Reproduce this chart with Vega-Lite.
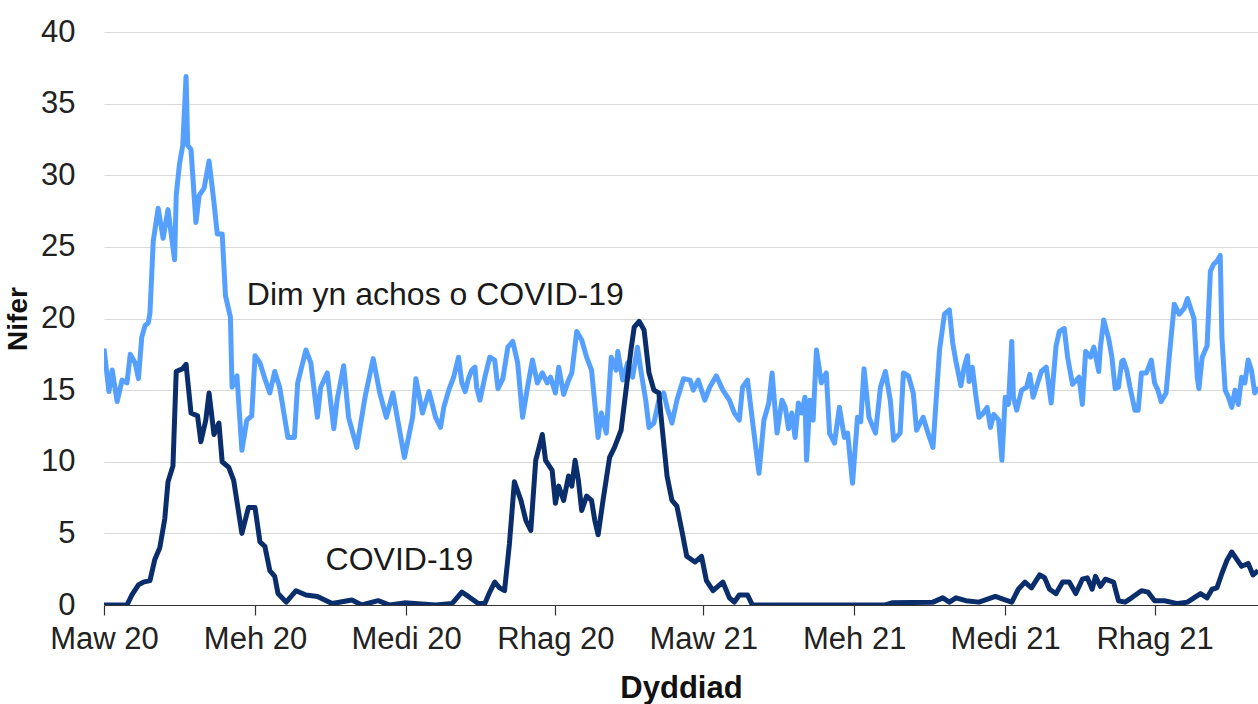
{
  "$schema": "https://vega.github.io/schema/vega-lite/v6.json",
  "autosize": "none",
  "width": 1154,
  "height": 573,
  "padding": {"left": 104, "top": 32, "right": 0, "bottom": 99},
  "background": "white",
  "config": {
    "view": {"stroke": null},
    "font": "Liberation Sans",
    "axis": {"labelFont": "Liberation Sans", "titleFont": "Liberation Sans", "labelColor": "#222222", "titleColor": "#111111"}
  },
  "datasets": {
    "dim": [
      {"d":"2020-03-01","v":17.9},{"d":"2020-03-04","v":14.9},{"d":"2020-03-06","v":16.4},{"d":"2020-03-09","v":14.2},{"d":"2020-03-12","v":15.7},{"d":"2020-03-15","v":15.5},{"d":"2020-03-17","v":17.5},{"d":"2020-03-20","v":16.9},{"d":"2020-03-22","v":15.8},{"d":"2020-03-24","v":18.7},{"d":"2020-03-26","v":19.5},{"d":"2020-03-28","v":19.7},{"d":"2020-03-29","v":20.4},{"d":"2020-03-31","v":25.4},
      {"d":"2020-04-03","v":27.7},{"d":"2020-04-06","v":25.6},{"d":"2020-04-09","v":27.6},{"d":"2020-04-13","v":24.1},{"d":"2020-04-14","v":28.6},{"d":"2020-04-16","v":30.8},{"d":"2020-04-18","v":32.1},{"d":"2020-04-20","v":36.9},{"d":"2020-04-21","v":32.1},{"d":"2020-04-23","v":31.8},{"d":"2020-04-26","v":26.7},{"d":"2020-04-28","v":28.6},
      {"d":"2020-05-01","v":29.1},{"d":"2020-05-04","v":31.0},{"d":"2020-05-07","v":28.1},{"d":"2020-05-09","v":25.9},{"d":"2020-05-12","v":25.9},{"d":"2020-05-14","v":21.6},{"d":"2020-05-17","v":20.1},{"d":"2020-05-18","v":15.2},{"d":"2020-05-21","v":16.0},{"d":"2020-05-24","v":10.8},{"d":"2020-05-27","v":12.9},{"d":"2020-05-30","v":13.2},
      {"d":"2020-06-01","v":17.4},{"d":"2020-06-04","v":16.9},{"d":"2020-06-07","v":15.8},{"d":"2020-06-10","v":14.8},{"d":"2020-06-13","v":16.3},{"d":"2020-06-16","v":15.2},{"d":"2020-06-21","v":11.7},{"d":"2020-06-25","v":11.7},{"d":"2020-06-27","v":15.5},
      {"d":"2020-07-02","v":17.8},{"d":"2020-07-05","v":16.9},{"d":"2020-07-09","v":13.1},{"d":"2020-07-11","v":15.2},{"d":"2020-07-15","v":16.2},{"d":"2020-07-19","v":12.3},{"d":"2020-07-21","v":14.3},{"d":"2020-07-25","v":16.7},{"d":"2020-07-28","v":13.1},
      {"d":"2020-08-02","v":11.0},{"d":"2020-08-07","v":14.5},{"d":"2020-08-12","v":17.2},{"d":"2020-08-16","v":14.8},{"d":"2020-08-20","v":13.1},{"d":"2020-08-24","v":14.8},{"d":"2020-08-31","v":10.3},
      {"d":"2020-09-05","v":13.1},{"d":"2020-09-07","v":15.8},{"d":"2020-09-11","v":13.4},{"d":"2020-09-15","v":14.9},{"d":"2020-09-19","v":13.1},{"d":"2020-09-22","v":12.4},{"d":"2020-09-24","v":13.8},{"d":"2020-09-27","v":15.0},{"d":"2020-09-30","v":15.9},
      {"d":"2020-10-03","v":17.3},{"d":"2020-10-05","v":15.5},{"d":"2020-10-07","v":14.9},{"d":"2020-10-09","v":15.8},{"d":"2020-10-11","v":16.4},{"d":"2020-10-13","v":16.6},{"d":"2020-10-14","v":15.2},{"d":"2020-10-16","v":14.3},{"d":"2020-10-19","v":15.9},{"d":"2020-10-22","v":17.3},{"d":"2020-10-25","v":17.1},{"d":"2020-10-27","v":15.1},{"d":"2020-10-30","v":15.8},
      {"d":"2020-11-02","v":18.0},{"d":"2020-11-05","v":18.4},{"d":"2020-11-08","v":16.9},{"d":"2020-11-11","v":13.1},{"d":"2020-11-14","v":15.2},{"d":"2020-11-17","v":17.1},{"d":"2020-11-20","v":15.5},{"d":"2020-11-23","v":16.2},{"d":"2020-11-26","v":15.5},{"d":"2020-11-28","v":15.9},
      {"d":"2020-12-01","v":14.8},{"d":"2020-12-03","v":16.6},{"d":"2020-12-06","v":14.7},{"d":"2020-12-09","v":15.7},{"d":"2020-12-11","v":16.2},{"d":"2020-12-14","v":19.1},{"d":"2020-12-17","v":18.5},{"d":"2020-12-20","v":17.3},{"d":"2020-12-23","v":16.4},{"d":"2020-12-27","v":11.7},{"d":"2020-12-29","v":13.4},
      {"d":"2021-01-01","v":12.0},{"d":"2021-01-04","v":17.3},{"d":"2021-01-07","v":16.4},{"d":"2021-01-08","v":17.7},{"d":"2021-01-11","v":15.7},{"d":"2021-01-14","v":16.9},{"d":"2021-01-17","v":15.9},{"d":"2021-01-20","v":18.0},{"d":"2021-01-22","v":16.4},{"d":"2021-01-25","v":14.3},{"d":"2021-01-27","v":12.4},{"d":"2021-01-30","v":12.7},
      {"d":"2021-02-02","v":14.3},{"d":"2021-02-05","v":14.8},{"d":"2021-02-07","v":13.8},{"d":"2021-02-10","v":12.7},{"d":"2021-02-13","v":14.3},{"d":"2021-02-17","v":15.8},{"d":"2021-02-21","v":15.7},{"d":"2021-02-23","v":15.0},{"d":"2021-02-26","v":15.7},
      {"d":"2021-03-02","v":14.3},{"d":"2021-03-05","v":15.2},{"d":"2021-03-09","v":16.0},{"d":"2021-03-13","v":15.0},{"d":"2021-03-17","v":14.3},{"d":"2021-03-20","v":13.4},{"d":"2021-03-23","v":12.9},{"d":"2021-03-25","v":15.2},{"d":"2021-03-28","v":15.7},{"d":"2021-03-31","v":12.9},
      {"d":"2021-04-04","v":9.2},{"d":"2021-04-07","v":12.9},{"d":"2021-04-10","v":14.1},{"d":"2021-04-12","v":16.2},{"d":"2021-04-15","v":12.0},{"d":"2021-04-18","v":14.3},{"d":"2021-04-20","v":13.8},{"d":"2021-04-22","v":12.3},{"d":"2021-04-24","v":13.4},{"d":"2021-04-26","v":11.7},{"d":"2021-04-28","v":14.1},{"d":"2021-04-30","v":13.4},
      {"d":"2021-05-02","v":14.5},{"d":"2021-05-03","v":10.1},{"d":"2021-05-05","v":14.3},{"d":"2021-05-07","v":12.9},{"d":"2021-05-09","v":17.8},{"d":"2021-05-12","v":15.5},{"d":"2021-05-15","v":16.2},{"d":"2021-05-17","v":12.0},{"d":"2021-05-20","v":11.3},{"d":"2021-05-23","v":13.8},{"d":"2021-05-26","v":11.7},{"d":"2021-05-28","v":12.0},{"d":"2021-05-31","v":8.5},
      {"d":"2021-06-03","v":13.1},{"d":"2021-06-05","v":12.8},{"d":"2021-06-07","v":16.5},{"d":"2021-06-10","v":13.1},{"d":"2021-06-14","v":12.0},{"d":"2021-06-17","v":15.2},{"d":"2021-06-20","v":16.3},{"d":"2021-06-23","v":14.3},{"d":"2021-06-25","v":11.5},{"d":"2021-06-29","v":12.0},
      {"d":"2021-07-01","v":16.2},{"d":"2021-07-04","v":16.0},{"d":"2021-07-07","v":14.8},{"d":"2021-07-09","v":12.2},{"d":"2021-07-13","v":13.1},{"d":"2021-07-16","v":12.0},{"d":"2021-07-19","v":11.0},{"d":"2021-07-23","v":17.8},{"d":"2021-07-26","v":20.3},{"d":"2021-07-29","v":20.6},{"d":"2021-07-31","v":18.3},
      {"d":"2021-08-02","v":17.0},{"d":"2021-08-05","v":15.3},{"d":"2021-08-07","v":16.6},{"d":"2021-08-09","v":17.4},{"d":"2021-08-10","v":15.6},{"d":"2021-08-12","v":16.6},{"d":"2021-08-14","v":14.7},{"d":"2021-08-16","v":13.1},{"d":"2021-08-18","v":13.3},{"d":"2021-08-21","v":13.8},{"d":"2021-08-23","v":12.4},{"d":"2021-08-25","v":13.3},{"d":"2021-08-28","v":12.9},{"d":"2021-08-30","v":10.1},
      {"d":"2021-09-01","v":14.5},{"d":"2021-09-03","v":14.0},{"d":"2021-09-05","v":18.4},{"d":"2021-09-06","v":14.5},{"d":"2021-09-08","v":13.6},{"d":"2021-09-11","v":15.0},{"d":"2021-09-14","v":15.2},{"d":"2021-09-16","v":16.1},{"d":"2021-09-18","v":14.5},{"d":"2021-09-23","v":16.3},{"d":"2021-09-26","v":16.6},{"d":"2021-09-29","v":14.1},
      {"d":"2021-10-02","v":18.1},{"d":"2021-10-04","v":19.1},{"d":"2021-10-07","v":19.3},{"d":"2021-10-09","v":17.3},{"d":"2021-10-12","v":15.4},{"d":"2021-10-16","v":15.9},{"d":"2021-10-18","v":14.0},{"d":"2021-10-20","v":17.7},{"d":"2021-10-23","v":17.3},{"d":"2021-10-25","v":18.0},{"d":"2021-10-28","v":16.3},{"d":"2021-10-29","v":18.0},{"d":"2021-10-31","v":19.9},
      {"d":"2021-11-03","v":18.6},{"d":"2021-11-05","v":17.3},{"d":"2021-11-07","v":15.1},{"d":"2021-11-09","v":15.2},{"d":"2021-11-11","v":17.0},{"d":"2021-11-12","v":17.1},{"d":"2021-11-14","v":16.4},{"d":"2021-11-16","v":15.2},{"d":"2021-11-19","v":13.6},{"d":"2021-11-21","v":13.6},{"d":"2021-11-23","v":16.2},{"d":"2021-11-26","v":16.2},{"d":"2021-11-29","v":17.1},
      {"d":"2021-12-01","v":15.5},{"d":"2021-12-03","v":15.0},{"d":"2021-12-05","v":14.2},{"d":"2021-12-08","v":14.8},{"d":"2021-12-10","v":17.4},{"d":"2021-12-13","v":21.0},{"d":"2021-12-16","v":20.3},{"d":"2021-12-19","v":20.7},{"d":"2021-12-21","v":21.4},{"d":"2021-12-25","v":20.0},{"d":"2021-12-27","v":15.9},{"d":"2021-12-28","v":15.1},{"d":"2021-12-30","v":17.3},
      {"d":"2022-01-02","v":18.1},{"d":"2022-01-04","v":23.3},{"d":"2022-01-06","v":23.8},{"d":"2022-01-08","v":24.0},{"d":"2022-01-10","v":24.4},{"d":"2022-01-11","v":18.7},{"d":"2022-01-13","v":15.0},{"d":"2022-01-15","v":14.5},{"d":"2022-01-17","v":13.8},{"d":"2022-01-19","v":15.0},{"d":"2022-01-21","v":14.0},{"d":"2022-01-23","v":15.9},{"d":"2022-01-25","v":15.5},{"d":"2022-01-27","v":17.1},{"d":"2022-01-29","v":16.4},{"d":"2022-01-31","v":14.8},{"d":"2022-02-02","v":15.2}
    ],
    "covid": [
      {"d":"2020-03-01","v":0},{"d":"2020-03-15","v":0},{"d":"2020-03-18","v":0.7},{"d":"2020-03-22","v":1.4},{"d":"2020-03-25","v":1.6},{"d":"2020-03-29","v":1.7},
      {"d":"2020-04-01","v":3.2},{"d":"2020-04-04","v":4.0},{"d":"2020-04-07","v":6.0},{"d":"2020-04-09","v":8.6},{"d":"2020-04-12","v":9.7},{"d":"2020-04-14","v":16.3},{"d":"2020-04-18","v":16.5},{"d":"2020-04-20","v":16.8},{"d":"2020-04-23","v":13.4},{"d":"2020-04-27","v":13.2},{"d":"2020-04-29","v":11.4},
      {"d":"2020-05-02","v":12.9},{"d":"2020-05-04","v":14.8},{"d":"2020-05-07","v":11.9},{"d":"2020-05-10","v":12.7},{"d":"2020-05-12","v":10.0},{"d":"2020-05-16","v":9.6},{"d":"2020-05-19","v":8.7},{"d":"2020-05-24","v":5.0},{"d":"2020-05-28","v":6.8},
      {"d":"2020-06-01","v":6.8},{"d":"2020-06-04","v":4.4},{"d":"2020-06-07","v":4.1},{"d":"2020-06-10","v":2.4},{"d":"2020-06-13","v":2.0},{"d":"2020-06-15","v":0.8},{"d":"2020-06-20","v":0.2},{"d":"2020-06-26","v":1.0},
      {"d":"2020-07-02","v":0.7},{"d":"2020-07-09","v":0.6},{"d":"2020-07-18","v":0.1},{"d":"2020-07-30","v":0.35},{"d":"2020-08-05","v":0},{"d":"2020-08-15","v":0.3},{"d":"2020-08-22","v":0},{"d":"2020-08-31","v":0.15},
      {"d":"2020-09-19","v":0},{"d":"2020-09-29","v":0.1},{"d":"2020-10-05","v":0.9},{"d":"2020-10-09","v":0.6},{"d":"2020-10-15","v":0.1},{"d":"2020-10-19","v":0.1},{"d":"2020-10-22","v":0.9},{"d":"2020-10-25","v":1.6},{"d":"2020-10-28","v":1.2},{"d":"2020-10-31","v":1.0},
      {"d":"2020-11-03","v":4.3},{"d":"2020-11-06","v":8.6},{"d":"2020-11-10","v":7.3},{"d":"2020-11-13","v":5.9},{"d":"2020-11-16","v":5.2},{"d":"2020-11-19","v":10.1},{"d":"2020-11-23","v":11.9},{"d":"2020-11-25","v":10.1},{"d":"2020-11-29","v":9.4},
      {"d":"2020-12-01","v":7.1},{"d":"2020-12-03","v":8.3},{"d":"2020-12-06","v":7.3},{"d":"2020-12-09","v":9.0},{"d":"2020-12-11","v":8.3},{"d":"2020-12-13","v":10.1},{"d":"2020-12-15","v":8.7},{"d":"2020-12-17","v":6.6},{"d":"2020-12-20","v":7.6},{"d":"2020-12-23","v":7.3},{"d":"2020-12-25","v":5.9},{"d":"2020-12-27","v":4.9},{"d":"2020-12-30","v":7.3},
      {"d":"2021-01-03","v":10.3},{"d":"2021-01-06","v":11.0},{"d":"2021-01-10","v":12.2},{"d":"2021-01-13","v":15.0},{"d":"2021-01-16","v":17.8},{"d":"2021-01-18","v":19.4},{"d":"2021-01-21","v":19.8},{"d":"2021-01-24","v":19.2},{"d":"2021-01-27","v":16.2},{"d":"2021-01-30","v":15.0},
      {"d":"2021-02-02","v":14.8},{"d":"2021-02-04","v":12.4},{"d":"2021-02-07","v":9.0},{"d":"2021-02-10","v":7.3},{"d":"2021-02-13","v":6.9},{"d":"2021-02-16","v":5.2},{"d":"2021-02-19","v":3.4},{"d":"2021-02-24","v":3.0},{"d":"2021-02-28","v":3.4},
      {"d":"2021-03-03","v":1.7},{"d":"2021-03-07","v":1.0},{"d":"2021-03-13","v":1.6},{"d":"2021-03-17","v":0.5},{"d":"2021-03-20","v":0.2},{"d":"2021-03-23","v":0.7},{"d":"2021-03-28","v":0.7},{"d":"2021-03-31","v":0},
      {"d":"2021-04-20","v":0},{"d":"2021-06-20","v":0},{"d":"2021-06-24","v":0.15},{"d":"2021-07-19","v":0.2},{"d":"2021-07-25","v":0.5},{"d":"2021-07-29","v":0.2},
      {"d":"2021-08-02","v":0.5},{"d":"2021-08-08","v":0.3},{"d":"2021-08-16","v":0.2},{"d":"2021-08-26","v":0.6},{"d":"2021-08-31","v":0.4},
      {"d":"2021-09-05","v":0.2},{"d":"2021-09-09","v":1.1},{"d":"2021-09-13","v":1.6},{"d":"2021-09-17","v":1.2},{"d":"2021-09-22","v":2.1},{"d":"2021-09-25","v":1.9},{"d":"2021-09-28","v":1.1},
      {"d":"2021-10-02","v":0.8},{"d":"2021-10-06","v":1.6},{"d":"2021-10-10","v":1.6},{"d":"2021-10-14","v":0.8},{"d":"2021-10-18","v":1.8},{"d":"2021-10-21","v":1.9},{"d":"2021-10-24","v":1.1},{"d":"2021-10-26","v":2.0},{"d":"2021-10-29","v":1.3},
      {"d":"2021-11-01","v":1.8},{"d":"2021-11-06","v":1.6},{"d":"2021-11-09","v":0.3},{"d":"2021-11-13","v":0.2},{"d":"2021-11-17","v":0.5},{"d":"2021-11-23","v":1.0},{"d":"2021-11-27","v":0.9},
      {"d":"2021-12-01","v":0.3},{"d":"2021-12-07","v":0.3},{"d":"2021-12-15","v":0.1},{"d":"2021-12-21","v":0.2},{"d":"2021-12-25","v":0.5},{"d":"2021-12-29","v":0.8},
      {"d":"2022-01-02","v":0.5},{"d":"2022-01-05","v":1.1},{"d":"2022-01-08","v":1.2},{"d":"2022-01-11","v":2.2},{"d":"2022-01-14","v":3.1},{"d":"2022-01-17","v":3.7},{"d":"2022-01-20","v":3.2},{"d":"2022-01-23","v":2.7},{"d":"2022-01-27","v":2.9},{"d":"2022-01-30","v":2.1},{"d":"2022-02-02","v":2.4}
    ],
    "labels": [
      {"d":"2020-05-27","v":20.94,"t":"Dim yn achos o COVID-19"},
      {"d":"2020-07-14","v":2.44,"t":"COVID-19"}
    ]
  },
  "encoding": {
    "x": {
      "field": "d", "type": "temporal",
      "scale": {"type": "utc", "nice": false, "domain": [{"year":2020,"month":3,"date":1,"utc":true},{"year":2022,"month":2,"date":2,"utc":true}]},
      "axis": {
        "title": "Dyddiad",
        "values": [
          {"year":2020,"month":3,"date":1,"utc":true},{"year":2020,"month":6,"date":1,"utc":true},{"year":2020,"month":9,"date":1,"utc":true},{"year":2020,"month":12,"date":1,"utc":true},
          {"year":2021,"month":3,"date":1,"utc":true},{"year":2021,"month":6,"date":1,"utc":true},{"year":2021,"month":9,"date":1,"utc":true},{"year":2021,"month":12,"date":1,"utc":true}
        ],
        "labelExpr": "['Ion','Chwef','Maw','Ebr','Mai','Meh','Gorff','Awst','Medi','Hyd','Tach','Rhag'][utcmonth(datum.value)] + ' ' + utcFormat(datum.value, '%y')",
        "grid": false,
        "domainColor": "#333333", "domainWidth": 1.2,
        "tickColor": "#333333", "tickSize": 10, "tickWidth": 1.2,
        "labelFontSize": 31, "labelPadding": 9, "labelFlush": false, "labelOverlap": false,
        "titleFontSize": 31, "titleFontWeight": "bold", "titlePadding": 19
      }
    },
    "y": {
      "field": "v", "type": "quantitative",
      "scale": {"domain": [0, 40], "nice": false, "zero": true},
      "axis": {
        "title": "Nifer",
        "values": [0,5,10,15,20,25,30,35,40],
        "grid": true, "gridColor": "#d9d9d9", "gridWidth": 1.2,
        "domain": false, "ticks": false, "tickSize": 0,
        "labelFontSize": 31, "labelPadding": 29,
        "titleFontSize": 28, "titleFontWeight": "bold", "titlePadding": 8
      }
    }
  },
  "layer": [
    {
      "data": {"name": "dim"},
      "mark": {"type": "line", "color": "#55A0FF", "strokeWidth": 5, "strokeJoin": "round", "clip": true}
    },
    {
      "data": {"name": "covid"},
      "mark": {"type": "line", "color": "#0A2D6C", "strokeWidth": 5, "strokeJoin": "round", "clip": true}
    },
    {
      "data": {"name": "labels"},
      "mark": {"type": "text", "align": "left", "baseline": "alphabetic", "fontSize": 32, "font": "Liberation Sans", "color": "#1a1a1a"},
      "encoding": {"text": {"field": "t"}}
    }
  ]
}
